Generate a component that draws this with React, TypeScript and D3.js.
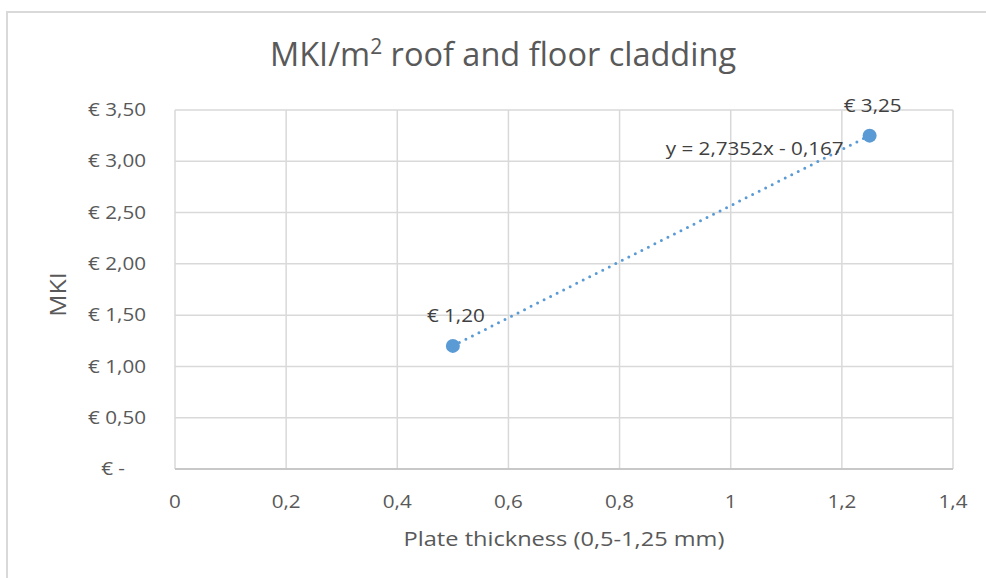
import * as d3 from 'd3'
import type { ReactNode } from 'react'

// chart data
const thickness = [0.5, 1.25]
const mki = [1.2, 3.25]
const xTicks = [0, 0.2, 0.4, 0.6, 0.8, 1, 1.2, 1.4]
const yTicks = [0, 0.5, 1, 1.5, 2, 2.5, 3, 3.5]
const trendSlope = 2.7352
const trendIntercept = -0.167

const title = 'MKI/m'
const xTitle = 'Plate thickness (0,5-1,25 mm)'
const yTitle = 'MKI'

const width = 986
const height = 578
const plot = { left: 175, right: 953, top: 110, bottom: 469 }

const font = '"Open Sans", "Segoe UI", sans-serif'
const textColor = '#595959'
const gridColor = '#D9D9D9'
const blue = '#5B9BD5'
// the reference's lettering is wider than Open Sans, so text is stretched a bit
const stretch = 1.18

const comma = (v: number, digits: number) => v.toFixed(digits).replace('.', ',')
const euro = (v: number) => (v === 0 ? '€ -' : `€ ${comma(v, 2)}`)
const xLabel = (v: number) => (Number.isInteger(v) ? String(v) : comma(v, 1))

type LabelProps = {
  x: number
  y: number
  anchor?: 'start' | 'middle' | 'end'
  size: number
  fill?: string
  rotate?: number
  dy?: string
  children: ReactNode
}

function Label({ x, y, anchor = 'middle', size, fill = textColor, rotate = 0, dy, children }: LabelProps) {
  return (
    <text
      transform={`translate(${x}, ${y}) rotate(${rotate}) scale(${stretch}, 1)`}
      textAnchor={anchor}
      fontSize={size}
      fill={fill}
      dy={dy}
    >
      {children}
    </text>
  )
}

export default function App() {
  const x = d3.scaleLinear().domain([0, 1.4]).range([plot.left, plot.right])
  const y = d3.scaleLinear().domain([0, 3.5]).range([plot.bottom, plot.top])

  const points = thickness.map((t, i) => ({ t, v: mki[i] }))
  const trendX = d3.extent(thickness) as [number, number]
  const trendPath = d3
    .line<number>()
    .x((t) => x(t))
    .y((t) => y(trendSlope * t + trendIntercept))(trendX)

  const last = points[points.length - 1]
  const sign = trendIntercept < 0 ? '-' : '+'
  const equation = `y = ${comma(trendSlope, 4)}x ${sign} ${comma(Math.abs(trendIntercept), 3)}`

  return (
    <div style={{ position: 'absolute', left: 0, top: 0 }}>
      <svg width={width} height={height} style={{ display: 'block', fontFamily: font }}>
        <rect x={0} y={0} width={width} height={height} fill="#fff" />
        <path d={`M7,${height} V12 H${width}`} fill="none" stroke={gridColor} strokeWidth={2} />

        <text x={503} y={66} textAnchor="middle" fontSize={32.5} fill={textColor}>
          {title}
          <tspan fontSize={21} dy={-12}>2</tspan>
          <tspan dy={12}> roof and floor cladding</tspan>
        </text>

        {yTicks.map((t) => (
          <g key={`y-${t}`}>
            <line x1={plot.left} x2={plot.right} y1={y(t)} y2={y(t)} stroke={gridColor} strokeWidth={1.5} />
            <Label x={t === 0 ? 125 : 146} y={y(t)} dy="0.35em" anchor="end" size={17.5}>
              {euro(t)}
            </Label>
          </g>
        ))}

        {xTicks.map((t) => (
          <g key={`x-${t}`}>
            <line x1={x(t)} x2={x(t)} y1={plot.top} y2={plot.bottom} stroke={gridColor} strokeWidth={1.5} />
            <Label x={x(t)} y={508} size={17.5}>
              {xLabel(t)}
            </Label>
          </g>
        ))}
        <line x1={plot.left} x2={plot.right} y1={plot.bottom} y2={plot.bottom} stroke="#BFBFBF" strokeWidth={1.5} />

        <Label x={564} y={546} size={20}>
          {xTitle}
        </Label>
        <Label x={66} y={(plot.top + plot.bottom) / 2 + 5} rotate={-90} size={21}>
          {yTitle}
        </Label>

        <path
          d={trendPath ?? ''}
          fill="none"
          stroke={blue}
          strokeWidth={3}
          strokeLinecap="round"
          strokeDasharray="0 7.3"
        />

        {points.map((p) => (
          <g key={p.t}>
            <circle cx={x(p.t)} cy={y(p.v)} r={7} fill={blue} />
            <Label x={x(p.t) + 3} y={y(p.v) - 24} size={17.5} fill="#404040">
              {euro(p.v)}
            </Label>
          </g>
        ))}

        <Label x={x(last.t) - 26} y={y(last.v) + 19} anchor="end" size={17.5} fill="#404040">
          {equation}
        </Label>
      </svg>
    </div>
  )
}
